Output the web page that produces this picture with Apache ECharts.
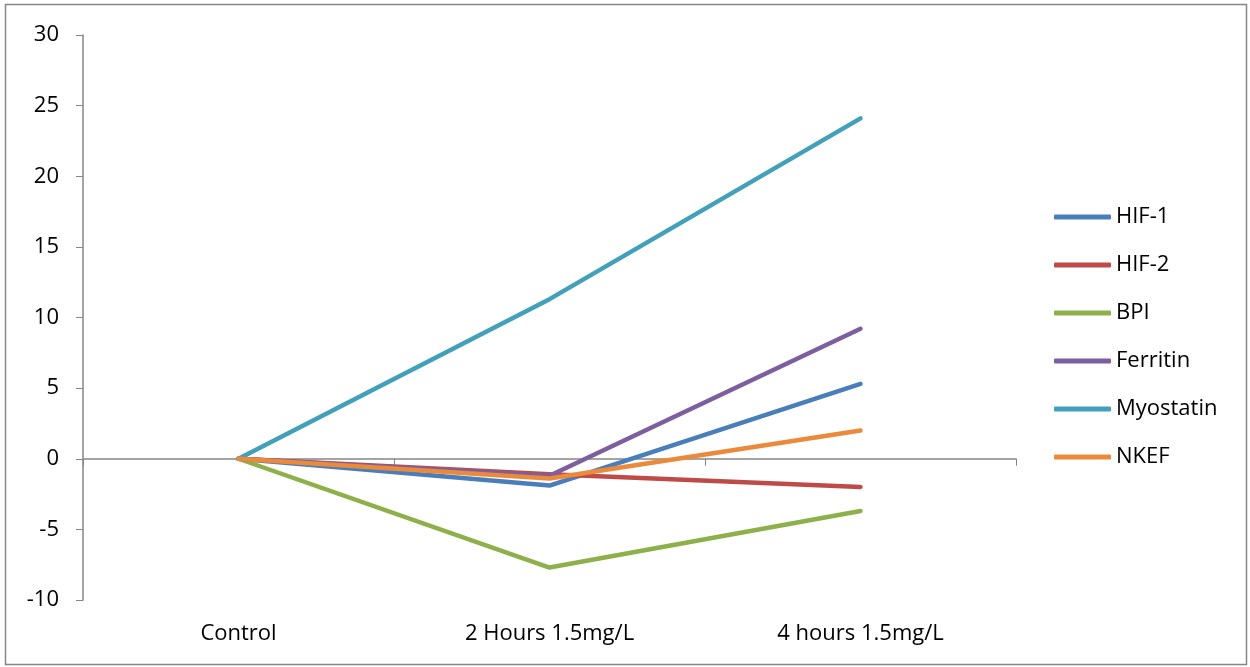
<!DOCTYPE html>
<html>
<head>
<meta charset="utf-8">
<script src="https://cdn.jsdelivr.net/npm/echarts@6/dist/echarts.min.js"></script>
<style>
html,body{margin:0;padding:0;background:#fff;}
#chart{width:1250px;height:667px;}
</style>
</head>
<body>
<div id="chart"></div>
<script>
const categories = ['Control', '2 Hours 1.5mg/L', '4 hours 1.5mg/L'];
const hif1 = [0, -1.9, 5.3];
const hif2 = [0, -1.1, -2.0];
const bpi = [0, -7.7, -3.7];
const ferritin = [0, -1.2, 9.2];
const myostatin = [0, 11.3, 24.1];
const nkef = [0, -1.4, 2.0];
const seriesNames = ['HIF-1', 'HIF-2', 'BPI', 'Ferritin', 'Myostatin', 'NKEF'];
const seriesData = [hif1, hif2, bpi, ferritin, myostatin, nkef];
const colors = ['#4A7EBB', '#BE4B48', '#8EB04A', '#7D5FA0', '#43A0BA', '#EC8A3C'];

const font = '"Open Sans", "Noto Sans", sans-serif';
const chart = echarts.init(document.getElementById('chart'));
chart.setOption({
  animation: false,
  color: colors,
  textStyle: {fontFamily: font},
  graphic: [{
    type: 'rect', shape: {x: 5.5, y: 4.5, width: 1241, height: 660},
    style: {fill: 'none', stroke: '#868686', lineWidth: 1.5}, silent: true
  }],
  grid: {left: 83, right: 234, top: 35, bottom: 67},
  legend: {
    orient: 'vertical', left: 1049, top: 201,
    icon: 'roundRect', itemWidth: 57, itemHeight: 5, itemGap: 26,
    textStyle: {fontSize: 22, color: '#000', fontFamily: font},
    data: seriesNames
  },
  xAxis: [{
    type: 'category', data: categories, boundaryGap: true,
    axisLine: {onZero: true, lineStyle: {color: '#868686', width: 1.5}},
    axisTick: {show: true, length: 7, lineStyle: {color: '#868686'}},
    axisLabel: {show: false}
  }, {
    type: 'category', data: categories, position: 'bottom', boundaryGap: true,
    axisLine: {show: false, onZero: false}, axisTick: {show: false},
    axisLabel: {show: true, margin: 23, fontSize: 22, color: '#000', fontFamily: font}
  }],
  yAxis: {
    type: 'value', min: -10, max: 30, interval: 5,
    axisLine: {show: true, lineStyle: {color: '#868686', width: 1.5}},
    axisTick: {show: true, length: 7, lineStyle: {color: '#868686'}},
    splitLine: {show: false},
    axisLabel: {margin: 24, fontSize: 22, color: '#000', fontFamily: font}
  },
  series: seriesNames.map((n, i) => ({
    name: n, type: 'line', data: seriesData[i], symbol: 'none',
    lineStyle: {width: 4.5, cap: 'round', join: 'round'}
  }))
});
</script>
</body>
</html>
